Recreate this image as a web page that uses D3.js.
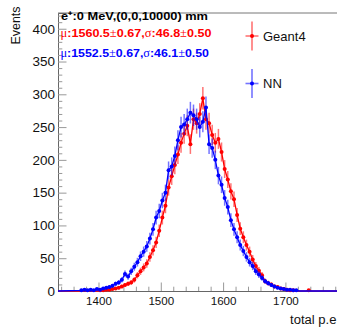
<!DOCTYPE html>
<html><head><meta charset="utf-8">
<script src="https://cdn.jsdelivr.net/npm/d3@7"></script>
<style>html,body{margin:0;padding:0;background:#fff;}svg{display:block;}</style>
</head><body>
<script>
// ---- data ----
const binStart = 1372.5;   // centre of first bin
const binWidth = 5;
const geant4 = [0,0,0,0,0,0,1,1,2,2,3,4,5,7,9,11,13,17,24,30,36,42,52,62,74,92,112,130,158,175,192,208,226,240,252,224,262,256,270,294,262,256,238,226,232,212,186,170,152,140,116,95,82,70,60,48,38,31,24,15,12,10,7,6,4,3,2,1,1,0,0,0,0,1,0];
const nn = [1,2,1,2,1,3,2,4,5,6,8,11,13,17,26,22,30,37,44,53,60,68,80,94,112,122,138,150,184,190,206,230,250,254,262,272,268,262,250,258,280,224,218,200,176,162,142,128,108,94,82,70,61,52,44,38,30,25,20,15,12,9,7,5,4,3,2,2,1,1,0,0,0,0,0];
const xMajorTicks = [1400,1500,1600,1700];
const yMajorTicks = [0,50,100,150,200,250,300,350,400];
const seriesNames = ["Geant4","NN"];
const headerText = "e\u207A:0 MeV,(0,0,10000) mm";
const statsG4 = {mu:"1560.5", emu:"0.67", s:"46.8", es:"0.50"};
const statsNN = {mu:"1552.5", emu:"0.67", s:"46.1", es:"0.50"};

(function(){
const W = 337, H = 331;
const mLeft = 58, mTop = 13, mBottom = 291;
const x = d3.scaleLinear().domain([1335, 1785]).range([mLeft, mLeft + 450*0.623]);
const y = d3.scaleLinear().domain([0, 424]).range([mBottom, mTop]);
const sans = "'Liberation Sans', Arial, sans-serif";
const serif = "'Liberation Serif', 'DejaVu Serif', serif";

const svg = d3.select("body").append("svg").attr("width", W).attr("height", H)
  .style("font-family", sans);
svg.append("rect").attr("width", W).attr("height", H).attr("fill", "#fff");

// frame top line
svg.append("line").attr("x1", mLeft).attr("x2", W).attr("y1", mTop).attr("y2", mTop)
  .attr("stroke", "#777").attr("stroke-width", 1);

// axes
const axCol = "#666";
const yMinor = d3.range(0, 421, 10).filter(v => v % 50 !== 0);
const yAx = svg.append("g").attr("transform", `translate(${mLeft},0)`)
  .call(d3.axisLeft(y).tickValues(yMajorTicks).tickSize(-8.5).tickPadding(3).tickFormat(d3.format("d")));
svg.append("g").attr("transform", `translate(${mLeft},0)`)
  .call(d3.axisLeft(y).tickValues(yMinor).tickSize(-4.3).tickFormat(""))
  .select(".domain").remove();
const xMinor = d3.range(1340, 1785, 20).filter(v => v % 100 !== 0);
const xAx = svg.append("g").attr("transform", `translate(0,${mBottom})`)
  .call(d3.axisBottom(x).tickValues(xMajorTicks).tickSize(-8.5).tickPadding(5).tickFormat(d3.format("d")));
svg.append("g").attr("transform", `translate(0,${mBottom})`)
  .call(d3.axisBottom(x).tickValues(xMinor).tickSize(-4.3).tickFormat(""))
  .select(".domain").remove();
svg.selectAll(".tick line").attr("stroke", "#999");
svg.selectAll(".domain").attr("stroke", axCol);
svg.selectAll(".tick text").attr("fill", "#111").attr("font-family", sans);
yAx.selectAll(".tick text").attr("font-size", 12).attr("dy", "0.36em")
  .attr("textLength", d => 7.5 * String(d).length).attr("lengthAdjust", "spacingAndGlyphs");
xAx.selectAll(".tick text").attr("font-size", 11.6).attr("dy", "0.75em");

// axis titles
svg.append("text").attr("transform", "translate(20,6.5) rotate(-90)")
  .attr("text-anchor", "end").attr("font-size", 13.5).attr("fill", "#111")
  .attr("textLength", 38).attr("lengthAdjust", "spacingAndGlyphs").text("Events");
svg.append("text").attr("x", 336.5).attr("y", 324).attr("text-anchor", "end")
  .attr("font-size", 12.5).attr("fill", "#111")
  .attr("textLength", 46.5).attr("lengthAdjust", "spacingAndGlyphs").text("total p.e");

// histograms
function drawSeries(vals, color, errColor) {
  const pts = vals.map((v, i) => ({c: binStart + i*binWidth, v}));
  const linePts = [{c: x.domain()[0], v: 0}, ...pts, {c: x.domain()[1], v: 0}];
  const g = svg.append("g");
  const nz = pts.filter(p => p.v > 0);
  g.selectAll(".ev").data(nz).enter().append("line")
    .attr("x1", p => x(p.c)).attr("x2", p => x(p.c))
    .attr("y1", p => y(p.v + Math.sqrt(p.v))).attr("y2", p => y(Math.max(0, p.v - Math.sqrt(p.v))))
    .attr("stroke", errColor).attr("stroke-width", 1.5);
  g.selectAll(".eh").data(nz).enter().append("line")
    .attr("x1", p => x(p.c - binWidth/2)).attr("x2", p => x(p.c + binWidth/2))
    .attr("y1", p => y(p.v)).attr("y2", p => y(p.v))
    .attr("stroke", errColor).attr("stroke-width", 1.5);
  g.append("path").datum(linePts)
    .attr("d", d3.line().x(p => x(p.c)).y(p => y(p.v)))
    .attr("fill", "none").attr("stroke", color).attr("stroke-width", 1.3);
  g.selectAll("circle").data(nz).enter().append("circle")
    .attr("cx", p => x(p.c)).attr("cy", p => y(p.v)).attr("r", 2)
    .attr("fill", color);
}
drawSeries(geant4, "#ff0000", "rgba(255,0,0,0.55)");
drawSeries(nn, "#0000ff", "rgba(0,0,255,0.55)");

// legend
const legend = [{name: seriesNames[0], color: "#ff0000", err: "rgba(255,0,0,0.55)", yy: 36, ty: 40.7},
                {name: seriesNames[1], color: "#0000ff", err: "rgba(0,0,255,0.55)", yy: 83.5, ty: 88.3}];
legend.forEach(l => {
  svg.append("line").attr("x1", 252).attr("x2", 252).attr("y1", l.yy - 14.5).attr("y2", l.yy + 14.5)
    .attr("stroke", l.err).attr("stroke-width", 1.6);
  svg.append("line").attr("x1", 245.5).attr("x2", 258.5).attr("y1", l.yy).attr("y2", l.yy)
    .attr("stroke", l.err).attr("stroke-width", 1.6);
  svg.append("circle").attr("cx", 252).attr("cy", l.yy).attr("r", 2).attr("fill", l.color);
  svg.append("text").attr("x", 263).attr("y", l.ty).attr("font-size", 13)
    .attr("fill", "#111").text(l.name);
});

// header / stats text
svg.append("text").attr("x", 61).attr("y", 19.5).attr("font-size", 11.5).attr("font-weight", "bold")
  .attr("fill", "#000").attr("textLength", 147).attr("lengthAdjust", "spacingAndGlyphs").text(headerText);
function stats(st, color, yy, target) {
  const t = svg.append("text").attr("x", 60.5).attr("y", yy).attr("font-size", 11.5)
    .attr("font-weight", "bold").attr("fill", color)
    .attr("textLength", target).attr("lengthAdjust", "spacingAndGlyphs");
  t.append("tspan").attr("font-family", serif).attr("font-weight", "normal").text("\u03BC");
  t.append("tspan").text(":" + st.mu);
  t.append("tspan").attr("font-family", serif).attr("font-weight", "normal").text("\u00B1");
  t.append("tspan").text(st.emu + ",");
  t.append("tspan").attr("font-family", serif).attr("font-weight", "normal").text("\u03C3");
  t.append("tspan").text(":" + st.s);
  t.append("tspan").attr("font-family", serif).attr("font-weight", "normal").text("\u00B1");
  t.append("tspan").text(st.es);
}
stats(statsG4, "#ff0000", 36.8, 151);
stats(statsNN, "#0000ff", 57.3, 148.5);
})();
</script>
</body></html>
